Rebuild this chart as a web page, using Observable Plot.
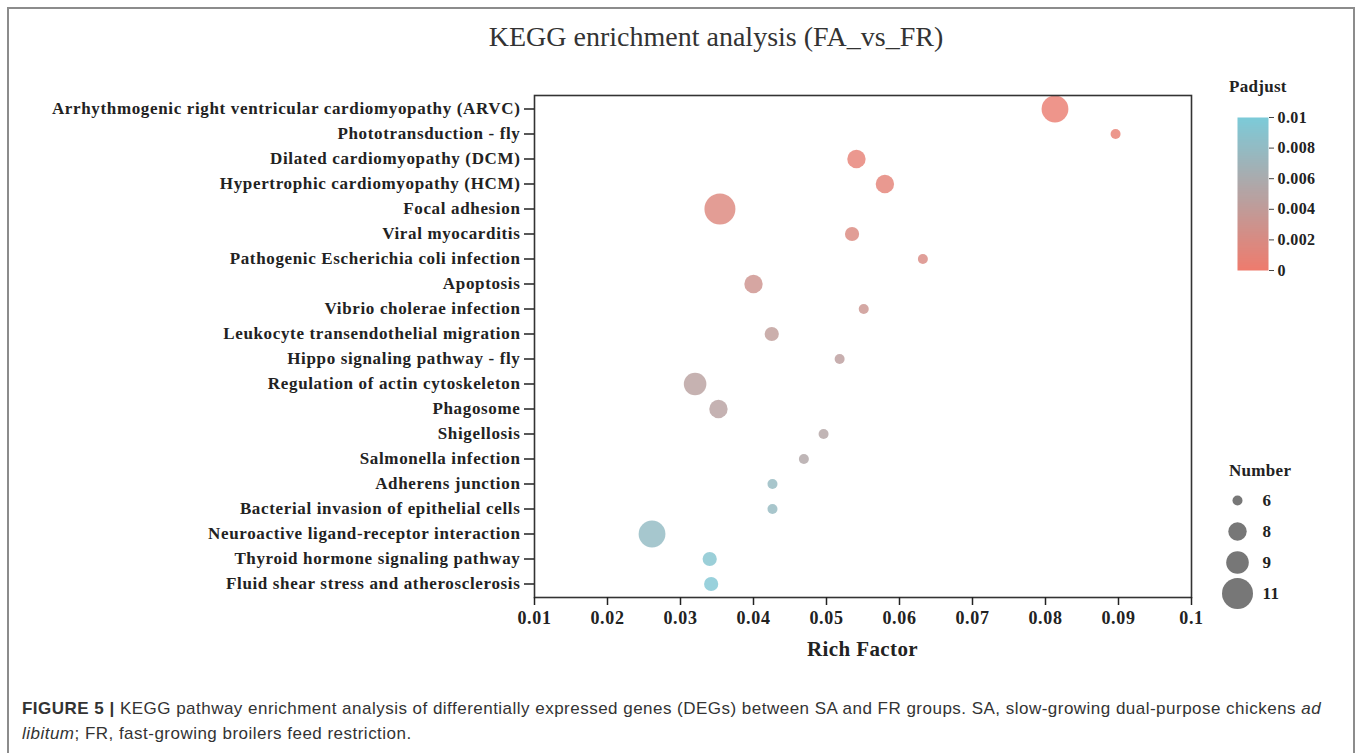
<!DOCTYPE html>
<html>
<head>
<meta charset="utf-8">
<script src="https://cdn.jsdelivr.net/npm/d3@7"></script>
<script src="https://cdn.jsdelivr.net/npm/@observablehq/plot@0.6"></script>
<style>
  html, body { margin: 0; padding: 0; background: #fff; }
  body { width: 1360px; height: 753px; position: relative; overflow: hidden; }
  .abs { position: absolute; }
  .serif { font-family: "Liberation Serif", "Times New Roman", serif; color: #222; }
  #frame { left: 7px; top: 7px; width: 1344px; height: 800px; border: 2px solid #8c8c8c; border-bottom: none; }
  #title { left: 0; width: 1432px; top: 21px; text-align: center; font-size: 28px; font-weight: normal; color: #333; }
  #xlabel { left: 534px; width: 657px; top: 637px; text-align: center; font-size: 21px; font-weight: bold; letter-spacing: 0.4px; }
  .legtitle { font-size: 17px; font-weight: bold; letter-spacing: 0.3px; }
  #caption { left: 22px; top: 696px; font-family: "Liberation Sans", Arial, sans-serif; font-size: 17px; letter-spacing: 0.48px; line-height: 25px; color: #333; white-space: nowrap; }
  #main svg text { letter-spacing: 0.65px; }
  #colorleg svg text, #sizeleg svg text { letter-spacing: 0.4px; }
</style>
</head>
<body>
<div id="frame" class="abs"></div>
<div id="title" class="abs serif">KEGG enrichment analysis (FA_vs_FR)</div>
<div id="main" class="abs" style="left:0;top:0"></div>
<div id="xlabel" class="abs serif">Rich Factor</div>
<div class="abs serif legtitle" style="left:1229px;top:77px">Padjust</div>
<div id="colorleg" class="abs" style="left:1230px;top:110px"></div>
<div class="abs serif legtitle" style="left:1229px;top:461px">Number</div>
<div id="sizeleg" class="abs" style="left:1215px;top:485px"></div>
<div id="caption" class="abs"><b>FIGURE 5 |</b> KEGG pathway enrichment analysis of differentially expressed genes (DEGs) between SA and FR groups. SA, slow-growing dual-purpose chickens <i>ad</i><br><i>libitum</i>; FR, fast-growing broilers feed restriction.</div>
<script>
const pathways = [
  "Arrhythmogenic right ventricular cardiomyopathy (ARVC)",
  "Phototransduction - fly",
  "Dilated cardiomyopathy (DCM)",
  "Hypertrophic cardiomyopathy (HCM)",
  "Focal adhesion",
  "Viral myocarditis",
  "Pathogenic Escherichia coli infection",
  "Apoptosis",
  "Vibrio cholerae infection",
  "Leukocyte transendothelial migration",
  "Hippo signaling pathway - fly",
  "Regulation of actin cytoskeleton",
  "Phagosome",
  "Shigellosis",
  "Salmonella infection",
  "Adherens junction",
  "Bacterial invasion of epithelial cells",
  "Neuroactive ligand-receptor interaction",
  "Thyroid hormone signaling pathway",
  "Fluid shear stress and atherosclerosis"
];
const richFactor = [0.0813, 0.0896, 0.0541, 0.0580, 0.0354, 0.0535, 0.0632, 0.0400, 0.0551, 0.0425,
                    0.0518, 0.0320, 0.0352, 0.0496, 0.0469, 0.0426, 0.0426, 0.0261, 0.0340, 0.0342];
const geneNumber = [10, 6, 8, 8, 11, 7, 6, 8, 6, 7, 6, 9, 8, 6, 6, 6, 6, 10, 7, 7];
const padjust = [0.0004, 0.0006, 0.0008, 0.0010, 0.0016, 0.0017, 0.0019, 0.0030, 0.0032, 0.0042,
                 0.0044, 0.0047, 0.0048, 0.0052, 0.0054, 0.0078, 0.0078, 0.0080, 0.0092, 0.0095];
const xTicks = [0.01, 0.02, 0.03, 0.04, 0.05, 0.06, 0.07, 0.08, 0.09, 0.1];
const padjTicks = [0, 0.002, 0.004, 0.006, 0.008, 0.01];
const numberLegend = [6, 8, 9, 11];

const data = pathways.map((p, i) => ({pathway: p, rich: richFactor[i], number: geneNumber[i], padj: padjust[i]}));
const fmt = d => String(+d.toFixed(3));
const serif = '"Liberation Serif", "Times New Roman", serif';
const colorOpts = {type: "linear", domain: [0, 0.01], range: ["#ef7b6d", "#7ccbd9"], interpolate: "rgb"};
const rOpts = {type: "linear", domain: [6, 11], range: [5, 15.5]};

const main = Plot.plot({
  width: 1220, height: 680,
  marginLeft: 534, marginRight: 29, marginTop: 95, marginBottom: 83,
  style: {fontFamily: serif, fontWeight: "bold", fontSize: "17px", color: "#222", background: "transparent", overflow: "visible"},
  x: {domain: [0.01, 0.1], label: null},
  y: {domain: pathways, type: "band", padding: 0, label: null},
  r: rOpts,
  color: colorOpts,
  marks: [
    Plot.dot(data, {x: "rich", y: "pathway", r: "number", fill: "padj", fillOpacity: 0.82, stroke: null}),
    Plot.frame({stroke: "#333", strokeWidth: 1.6}),
    Plot.axisX({ticks: xTicks, tickFormat: fmt, tickSize: 8, tickPadding: 6, strokeWidth: 1.5, stroke: "#222", label: null, fontSize: 18}),
    Plot.axisY({tickSize: 10, tickPadding: 4, strokeWidth: 1.5, stroke: "#222", label: null, fontSize: 17})
  ]
});
document.getElementById("main").appendChild(main);

const colorLeg = Plot.plot({
  width: 110, height: 170,
  marginLeft: 7, marginRight: 72, marginTop: 7, marginBottom: 10,
  style: {fontFamily: serif, fontWeight: "bold", fontSize: "16px", color: "#222", background: "transparent"},
  x: {domain: [0, 1], axis: null},
  y: {domain: [0, 0.01], label: null},
  color: colorOpts,
  marks: [
    Plot.raster({x1: 0, x2: 1, y1: 0, y2: 0.01, width: 2, height: 150, fill: (x, y) => y, imageRendering: "auto"}),
    Plot.axisY({anchor: "right", ticks: padjTicks, tickFormat: fmt, tickSize: 5, tickPadding: 4, stroke: "#444", label: null, fontSize: 16})
  ]
});
document.getElementById("colorleg").appendChild(colorLeg);

const sizeLeg = Plot.plot({
  width: 120, height: 125,
  marginLeft: 22, marginRight: 73, marginTop: 15, marginBottom: 17,
  style: {fontFamily: serif, fontWeight: "bold", fontSize: "17px", color: "#222", background: "transparent"},
  x: {domain: [0, 1], axis: null},
  y: {type: "point", domain: numberLegend, padding: 0, axis: null},
  r: rOpts,
  marks: [
    Plot.dot(numberLegend, {x: () => 0, y: d => d, r: d => d, fill: "#777", stroke: null}),
    Plot.text(numberLegend, {x: () => 1, y: d => d, text: d => String(d), textAnchor: "start", fontSize: 17})
  ]
});
document.getElementById("sizeleg").appendChild(sizeLeg);
</script>
</body>
</html>
